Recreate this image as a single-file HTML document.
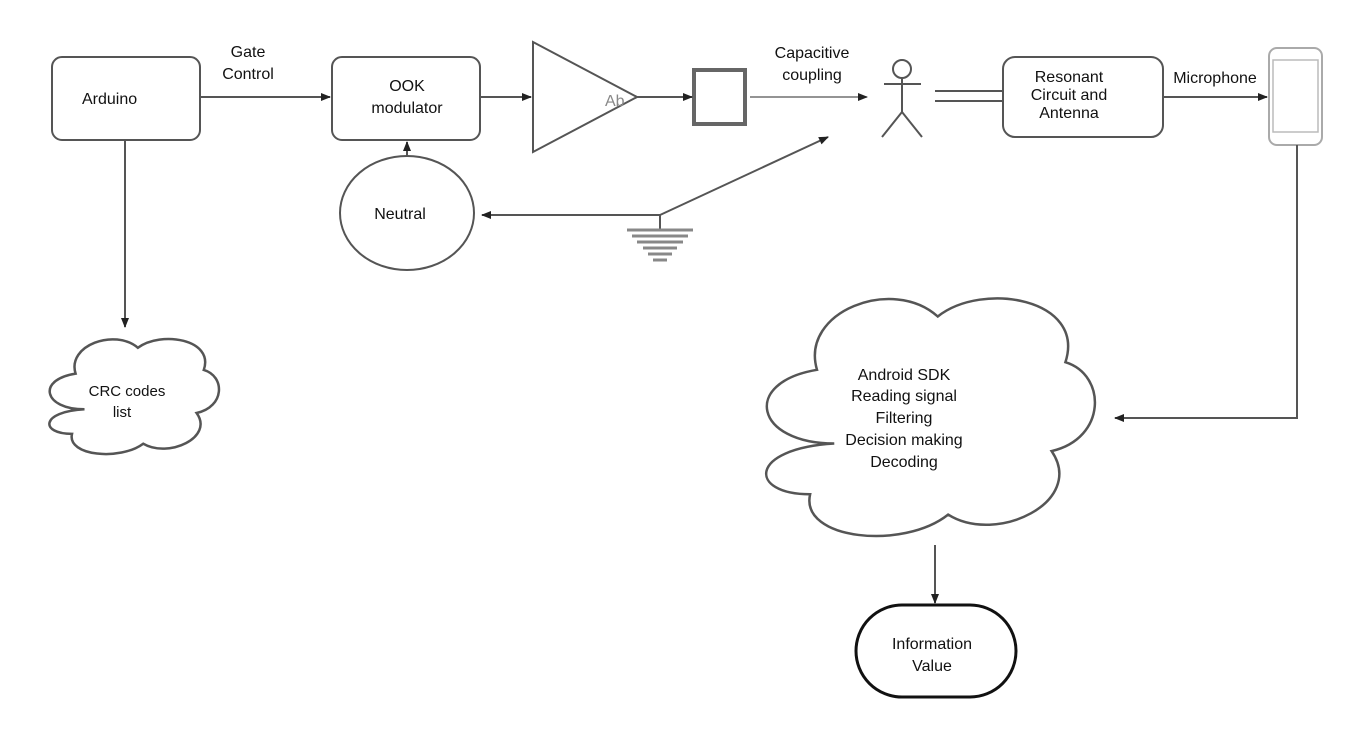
<!DOCTYPE html>
<html><head><meta charset="utf-8"><style>
html,body{margin:0;padding:0;background:#fff;}
svg{display:block;}
text{font-family:"Liberation Sans",sans-serif;fill:#111;}
</style></head><body>
<svg width="1367" height="739" viewBox="0 0 1367 739" xmlns="http://www.w3.org/2000/svg">
<defs>
<marker id="a" markerWidth="10" markerHeight="10" refX="9" refY="5" orient="auto" markerUnits="userSpaceOnUse">
<path d="M0,1 L10,5 L0,9 Z" fill="#222"/></marker>
</defs>
<g stroke="#555" fill="none" stroke-width="2">
<rect x="52" y="57" width="148" height="83" rx="10" fill="#fff"/>
<rect x="332" y="57" width="148" height="83" rx="10" fill="#fff"/>
<rect x="1003" y="57" width="160" height="80" rx="12" fill="#fff"/>
<polygon points="533,42 637,97 533,152" fill="#fff"/>
<rect x="694" y="70" width="51" height="54" stroke-width="4" stroke="#666"/>
<rect x="1269" y="48" width="53" height="97" rx="8" stroke="#aaa"/>
<rect x="1273" y="60" width="45" height="72" stroke="#bbb" stroke-width="1.5"/>
<ellipse cx="407" cy="213" rx="67" ry="57" fill="#fff"/>
<rect x="856" y="605" width="160" height="92" rx="46" stroke="#111" stroke-width="3"/>
</g>
<g stroke="#555" stroke-width="2" fill="none">
<line x1="200" y1="97" x2="330" y2="97" marker-end="url(#a)"/>
<line x1="480" y1="97" x2="531" y2="97" marker-end="url(#a)"/>
<line x1="637" y1="97" x2="692" y2="97" marker-end="url(#a)"/>
<line x1="750" y1="97" x2="867" y2="97" stroke-width="1.3" marker-end="url(#a)"/>
<line x1="1163" y1="97" x2="1267" y2="97" marker-end="url(#a)"/>
<line x1="407" y1="156" x2="407" y2="142" marker-end="url(#a)"/>
<line x1="125" y1="140" x2="125" y2="327" marker-end="url(#a)"/>
<line x1="660" y1="215" x2="482" y2="215" marker-end="url(#a)"/>
<line x1="660" y1="215" x2="828" y2="137" marker-end="url(#a)"/>
<polyline points="1297,145 1297,418 1115,418" marker-end="url(#a)"/>
<line x1="935" y1="545" x2="935" y2="603" marker-end="url(#a)"/>
<line x1="935" y1="91" x2="1003" y2="91"/>
<line x1="935" y1="101" x2="1003" y2="101"/>
<line x1="660" y1="215" x2="660" y2="230"/>
<line x1="627" y1="230" x2="693" y2="230" stroke="#888" stroke-width="3"/>
<line x1="632" y1="236" x2="688" y2="236" stroke="#888" stroke-width="3"/>
<line x1="637" y1="242" x2="683" y2="242" stroke="#888" stroke-width="3"/>
<line x1="643" y1="248" x2="677" y2="248" stroke="#888" stroke-width="3"/>
<line x1="648" y1="254" x2="672" y2="254" stroke="#888" stroke-width="3"/>
<line x1="653" y1="260" x2="667" y2="260" stroke="#888" stroke-width="3"/>
<circle cx="902" cy="69" r="9"/>
<line x1="884" y1="84" x2="921" y2="84"/>
<line x1="902" y1="78" x2="902" y2="112"/>
<polyline points="882,137 902,112 922,137"/>
</g>
<g fill="#fff" stroke="#555" stroke-width="2.5">
<path d="M84.5,409.3 C43.6,409.3 36.4,379.7 75.6,373.6 C66.7,345.3 114.8,328.1 137.9,347.8 C161,330.5 214.4,339.2 203.8,369.9 C225.1,376.1 225.1,406.8 196.6,413 C214.4,437.6 168.2,458.5 143.2,443.7 C120.1,460.9 66.7,456 72,433.9 C40,433.9 40,411.7 84.5,409.3 Z"/>
<path d="M834.25,443.5 C754.9,443.5 741.1,382.5 817,369.8 C799.75,311.4 892.9,275.8 937.75,316.5 C982.6,280.9 1086.1,298.7 1065.4,362.2 C1106.8,374.9 1106.8,438.4 1051.6,451.1 C1086.1,501.9 996.4,545.1 948.1,514.6 C903.25,550.2 799.75,540 810.1,494.3 C748,494.3 748,448.6 834.25,443.5 Z"/>
</g>
<text x="605" y="106" font-size="16" style="fill:#888">Ab</text>
<g font-size="16">
<text x="82" y="104">Arduino</text>
<text x="248" y="57" text-anchor="middle">Gate</text>
<text x="248" y="79" text-anchor="middle">Control</text>
<text x="407" y="91" text-anchor="middle">OOK</text>
<text x="407" y="113" text-anchor="middle">modulator</text>
<text x="812" y="58" text-anchor="middle">Capacitive</text>
<text x="812" y="80" text-anchor="middle">coupling</text>
<text x="1069" y="82" text-anchor="middle">Resonant</text>
<text x="1069" y="100" text-anchor="middle">Circuit and</text>
<text x="1069" y="118" text-anchor="middle">Antenna</text>
<text x="1215" y="83" text-anchor="middle">Microphone</text>
<text x="400" y="219" text-anchor="middle">Neutral</text>
<text x="127" y="396" text-anchor="middle" font-size="15">CRC codes</text>
<text x="122" y="417" text-anchor="middle" font-size="15">list</text>
<text x="904" y="380" text-anchor="middle">Android SDK</text>
<text x="904" y="401" text-anchor="middle">Reading signal</text>
<text x="904" y="423" text-anchor="middle">Filtering</text>
<text x="904" y="445" text-anchor="middle">Decision making</text>
<text x="904" y="467" text-anchor="middle">Decoding</text>
<text x="932" y="649" text-anchor="middle">Information</text>
<text x="932" y="671" text-anchor="middle">Value</text>
</g>
</svg>
</body></html>
